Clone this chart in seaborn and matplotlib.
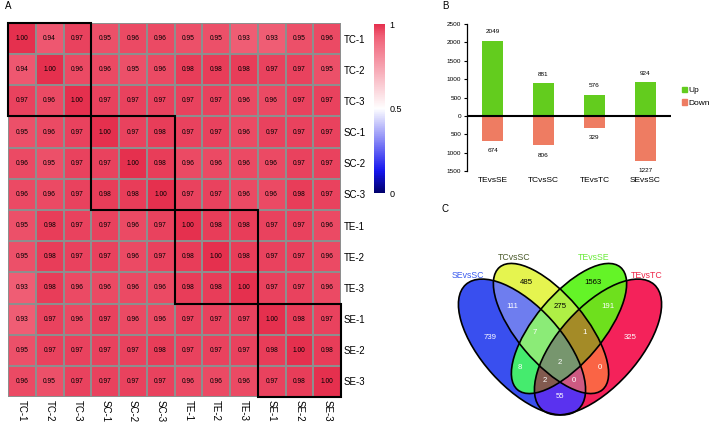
import numpy as np
import pandas as pd
import matplotlib
matplotlib.use("Agg")
import matplotlib.pyplot as plt
import seaborn as sns
from matplotlib.colors import LinearSegmentedColormap, to_rgb
from matplotlib.patches import Rectangle, Ellipse, Patch

### Data
############################################################################

samples = ["TC-1", "TC-2", "TC-3", "SC-1", "SC-2", "SC-3",
           "TE-1", "TE-2", "TE-3", "SE-1", "SE-2", "SE-3"]
corr_tc1 = [1.00, 0.94, 0.97, 0.95, 0.96, 0.96, 0.95, 0.95, 0.93, 0.93, 0.95, 0.96]
corr_tc2 = [0.94, 1.00, 0.96, 0.96, 0.95, 0.96, 0.98, 0.98, 0.98, 0.97, 0.97, 0.95]
corr_tc3 = [0.97, 0.96, 1.00, 0.97, 0.97, 0.97, 0.97, 0.97, 0.96, 0.96, 0.97, 0.97]
corr_sc1 = [0.95, 0.96, 0.97, 1.00, 0.97, 0.98, 0.97, 0.97, 0.96, 0.97, 0.97, 0.97]
corr_sc2 = [0.96, 0.95, 0.97, 0.97, 1.00, 0.98, 0.96, 0.96, 0.96, 0.96, 0.97, 0.97]
corr_sc3 = [0.96, 0.96, 0.97, 0.98, 0.98, 1.00, 0.97, 0.97, 0.96, 0.96, 0.98, 0.97]
corr_te1 = [0.95, 0.98, 0.97, 0.97, 0.96, 0.97, 1.00, 0.98, 0.98, 0.97, 0.97, 0.96]
corr_te2 = [0.95, 0.98, 0.97, 0.97, 0.96, 0.97, 0.98, 1.00, 0.98, 0.97, 0.97, 0.96]
corr_te3 = [0.93, 0.98, 0.96, 0.96, 0.96, 0.96, 0.98, 0.98, 1.00, 0.97, 0.97, 0.96]
corr_se1 = [0.93, 0.97, 0.96, 0.97, 0.96, 0.96, 0.97, 0.97, 0.97, 1.00, 0.98, 0.97]
corr_se2 = [0.95, 0.97, 0.97, 0.97, 0.97, 0.98, 0.97, 0.97, 0.97, 0.98, 1.00, 0.98]
corr_se3 = [0.96, 0.95, 0.97, 0.97, 0.97, 0.97, 0.96, 0.96, 0.96, 0.97, 0.98, 1.00]

comparisons = ["TEvsSE", "TCvsSC", "TEvsTC", "SEvsSC"]
up_counts = [2049, 881, 576, 924]
down_counts = [674, 806, 329, 1227]

venn_sets = ["SEvsSC", "TCvsSC", "TEvsSE", "TEvsTC"]   # A, B, C, D
venn_regions = ["A", "B", "C", "D", "AB", "BC", "CD", "AC", "BD", "AD",
                "ABC", "BCD", "ACD", "ABD", "ABCD"]
venn_counts = [739, 485, 1563, 325, 111, 275, 191, 8, 0, 55, 7, 1, 2, 0, 2]

### Style / layout
############################################################################

W, H = 709, 423
green = "#63CC1E"
salmon = "#EE7C62"

def px(x0, y0, w, h):
	return [x0 / W, 1 - (y0 + h) / H, w / W, h / H]

plt.rcParams['font.family'] = ['Liberation Sans', 'DejaVu Sans']
fig = plt.figure(figsize=(W / 100, H / 100), dpi=100)

### A: correlation heatmap
############################################################################

corr = pd.DataFrame([corr_tc1, corr_tc2, corr_tc3, corr_sc1, corr_sc2, corr_sc3,
                     corr_te1, corr_te2, corr_te3, corr_se1, corr_se2, corr_se3],
                    index=samples, columns=samples)
cmap = LinearSegmentedColormap.from_list(
	"corr", [(0, "#00006B"), (0.13, "#1515EE"), (0.5, "#FFFFFF"),
	         (0.93, "#F05F76"), (1, "#E5304E")])

axh = fig.add_axes(px(8, 23, 333, 374))
cax = fig.add_axes(px(374, 24, 11, 169))
sns.heatmap(corr, ax=axh, cbar_ax=cax, cmap=cmap, vmin=0, vmax=1,
            annot=True, fmt=".2f", annot_kws={"size": 4.8, "color": "black"},
            linewidths=1.4, linecolor="#8e8e8e")
axh.yaxis.tick_right()
axh.set_yticklabels(samples, rotation=0, fontsize=7)
axh.set_xticklabels(samples, rotation=-90, fontsize=7)
axh.tick_params(length=0, pad=2)
axh.set_xlabel(''); axh.set_ylabel('')
for k in range(4):
	axh.add_patch(Rectangle((3 * k, 3 * k), 3, 3, fill=False, ec='black', lw=1.5, clip_on=False))
cbar = axh.collections[0].colorbar
cbar.outline.set_visible(False)
cbar.set_ticks([0, 0.5, 1])
cbar.set_ticklabels(["0", "0.5", "1"])
cax.tick_params(length=0, labelsize=6.5, pad=3)

### B: up / down bars
############################################################################

df_bar = pd.DataFrame({
	"comparison": comparisons * 2,
	"count": up_counts + [-d for d in down_counts],
	"direction": ["Up"] * 4 + ["Down"] * 4})
axb = fig.add_axes(px(467, 24, 204, 147))
sns.barplot(data=df_bar, x="comparison", y="count", hue="direction",
            palette={"Up": green, "Down": salmon}, dodge=False, width=0.4,
            ax=axb, legend=False, saturation=1)
axb.set_xlim(-0.5, 3.5)
axb.set_ylim(-1500, 2500)
axb.axhline(0, color='black', lw=1.5)
for i, v in enumerate(up_counts):
	axb.text(i, v + 240, str(v), ha='center', va='center', fontsize=4.6)
for i, v in enumerate(down_counts):
	axb.text(i, -v - 260, str(v), ha='center', va='center', fontsize=4.6)
yt = list(range(-1500, 2501, 500))
axb.set_yticks(yt)
axb.set_yticklabels([str(abs(t)) for t in yt], fontsize=4.6)
axb.tick_params(axis='y', length=2.5, width=0.8, pad=1.5)
axb.tick_params(axis='x', length=0, labelsize=6, pad=4)
for s in ['top', 'right', 'bottom']:
	axb.spines[s].set_visible(False)
axb.spines['left'].set_linewidth(0.9)
axb.set_xlabel(''); axb.set_ylabel('')
fig.legend(handles=[Patch(color=green, label="Up"), Patch(color=salmon, label="Down")],
           loc='center left', bbox_to_anchor=(682 / W, 1 - 97 / H), frameon=False,
           fontsize=6, handlelength=0.55, handleheight=0.55, handletextpad=0.25,
           labelspacing=0.6, borderpad=0, borderaxespad=0)

### C: four-set Venn
############################################################################

# ellipse outlines (centre x, centre y, semi-major, semi-minor, angle) in pixel space
ellipses = [(522, 347, 84, 40, 48), (551, 328.5, 80, 34, 50),
            (569, 328.5, 80, 34, 130), (598, 347, 84, 40, 132)]
region_colors = {"A": "#3A50F0", "B": "#E6F550", "C": "#64F528", "D": "#F5235A",
                 "AB": "#6E7DF0", "BC": "#AFF046", "CD": "#6EE11E", "AC": "#46EB6E",
                 "BD": "#FA6446", "AD": "#5A32F0", "ABC": "#8CEB78", "BCD": "#A58C28",
                 "ACD": "#825A50", "ABD": "#CD5A82", "ABCD": "#78966E"}
count_pos = {"A": (490, 337), "B": (526, 282), "C": (593, 282), "D": (630, 337),
             "AB": (512, 306), "BC": (560, 306), "CD": (608, 306), "AC": (520, 367),
             "BD": (600, 367), "AD": (560, 396), "ABC": (535, 332), "BCD": (585, 332),
             "ACD": (545, 380), "ABD": (574, 380), "ABCD": (560, 362)}
label_pos = [(468, 275), (514, 257), (594, 257), (647, 275)]
label_colors = ["#3B5BEE", "#4B5A2A", "#6BEB3A", "#EE2548"]

axv = fig.add_axes(px(440, 240, 269, 183))
axv.set_xlim(440, 709)
axv.set_ylim(423, 240)
axv.axis('off')

xs = np.linspace(440, 709, 269 * 3)
ys = np.linspace(240, 423, 183 * 3)
X, Y = np.meshgrid(xs, ys)
inside = []
for cx, cy, a, b, ang in ellipses:
	t = np.deg2rad(ang)
	dx, dy = X - cx, Y - cy
	u = dx * np.cos(t) + dy * np.sin(t)
	v = -dx * np.sin(t) + dy * np.cos(t)
	inside.append((u / a) ** 2 + (v / b) ** 2 <= 1)
img = np.zeros(X.shape + (4,))
for name in venn_regions:
	mask = np.ones(X.shape, bool)
	for k, letter in enumerate("ABCD"):
		mask &= inside[k] if letter in name else ~inside[k]
	img[mask] = list(to_rgb(region_colors[name])) + [1]
axv.imshow(img, extent=(440, 709, 423, 240), origin='upper', interpolation='bilinear')
for cx, cy, a, b, ang in ellipses:
	axv.add_patch(Ellipse((cx, cy), 2 * a, 2 * b, angle=ang, fill=False, ec='black', lw=1.2))
for name, n in zip(venn_regions, venn_counts):
	col = 'black' if name in ("B", "C", "BC") else 'white'
	axv.text(*count_pos[name], str(n), ha='center', va='center', fontsize=5.6, color=col)
for (lx, ly), lab, col in zip(label_pos, venn_sets, label_colors):
	axv.text(lx, ly, lab, ha='center', va='center', fontsize=6.3, color=col)

### Panel letters
fig.text(5 / W, 1 - 6 / H, "A", fontsize=7, va='center')
fig.text(442 / W, 1 - 6 / H, "B", fontsize=7, va='center')
fig.text(442 / W, 1 - 209 / H, "C", fontsize=7, va='center')

fig.savefig("out.png", dpi=100)
